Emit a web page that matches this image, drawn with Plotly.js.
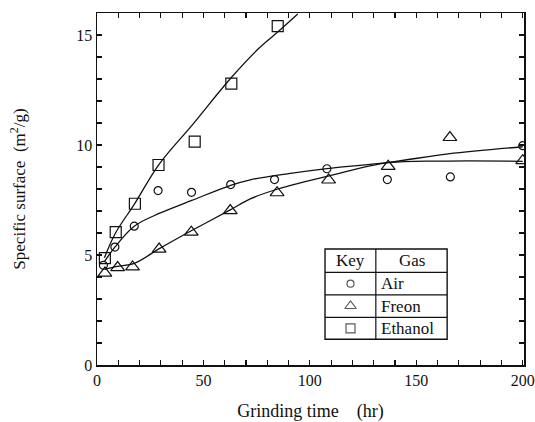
<!DOCTYPE html>
<html><head><meta charset="utf-8">
<script src="https://cdn.plot.ly/plotly-3.0.1.min.js"></script>
<style>body{margin:0;background:#fff}</style>
</head><body><div id="chart" style="width:535px;height:422px"></div>
<script>
// Measured points
const airX = [3, 8.4, 17.5, 28.7, 44.4, 62.8, 83.4, 108, 136.4, 166, 200];
const airY = [4.53, 5.36, 6.31, 7.93, 7.85, 8.2, 8.43, 8.92, 8.43, 8.55, 9.97];
const freonX = [3.7, 9.7, 16.7, 29.2, 44.3, 62.6, 84.6, 108.8, 136.8, 165.8, 200];
const freonY = [4.18, 4.43, 4.46, 5.27, 6.04, 7.02, 7.83, 8.41, 9.03, 10.34, 9.29];
const ethanolX = [3.7, 8.8, 17.8, 28.9, 45.9, 63.1, 84.9];
const ethanolY = [4.86, 6.04, 7.33, 9.09, 10.15, 12.79, 15.4];
// Fitted curves
const airCurveX = [3.5, 8.4, 17.5, 29.5, 44.5, 62.8, 72, 90, 108, 137, 165, 200];
const airCurveY = [4.7, 5.36, 6.31, 6.9, 7.48, 8.17, 8.42, 8.7, 8.93, 9.21, 9.6, 9.92];
const freonCurveX = [3.7, 9.5, 17.5, 29.5, 44.3, 62.6, 72, 85, 109, 137, 165, 200];
const freonCurveY = [4.35, 4.48, 4.62, 5.3, 6.1, 7.05, 7.55, 8.0, 8.6, 9.2, 9.27, 9.26];
const ethanolCurveX = [3.5, 8.7, 17.8, 28.9, 45.1, 62.5, 76.3, 85.7, 94.3];
const ethanolCurveY = [4.88, 6.0, 7.35, 9.09, 10.95, 13.0, 14.42, 15.2, 15.95];
// Key table
const keyNames = ['Air', 'Freon', 'Ethanol'];
const keySymbols = ['circle-open', 'triangle-up-open', 'square-open'];

const font = '"Liberation Serif", "Times New Roman", Times, serif';
const black = '#111';

const traces = [
  {x: airCurveX, y: airCurveY, mode: 'lines', line: {shape: 'spline', color: black, width: 1.3}, hoverinfo: 'skip'},
  {x: freonCurveX, y: freonCurveY, mode: 'lines', line: {shape: 'spline', color: black, width: 1.3}, hoverinfo: 'skip'},
  {x: ethanolCurveX, y: ethanolCurveY, mode: 'lines', line: {shape: 'spline', color: black, width: 1.3}, hoverinfo: 'skip'},
  {x: airX, y: airY, mode: 'markers', name: 'Air', marker: {symbol: 'circle-open', size: 8, color: black, line: {width: 1.2, color: black}}},
  {x: freonX, y: freonY, mode: 'markers', name: 'Freon', marker: {symbol: 'triangle-up-open', size: 12, color: black, line: {width: 1.2, color: black}}},
  {x: ethanolX, y: ethanolY, mode: 'markers', name: 'Ethanol', marker: {symbol: 'square-open', size: 11, color: black, line: {width: 1.2, color: black}}},
  // key symbols on overlay axes
  {x: [0.5937, 0.5937, 0.5937], y: [0.231, 0.1676, 0.104], xaxis: 'x2', yaxis: 'y2', mode: 'markers',
   marker: {symbol: keySymbols, size: [7, 10, 9], color: black, line: {width: 1.2, color: black}}, hoverinfo: 'skip'},
  // invisible trace to activate the mirrored tick axes
  {x: [0], y: [0], xaxis: 'x3', yaxis: 'y3', mode: 'markers', marker: {opacity: 0}, hoverinfo: 'skip'}
];

const rowY = [0.231, 0.1676, 0.104];
const annotations = [
  {xref: 'paper', yref: 'paper', x: 0.5937, y: 0.296, xanchor: 'center', yanchor: 'middle', text: 'Key', showarrow: false, font: {family: font, size: 17, color: black}},
  {xref: 'paper', yref: 'paper', x: 0.737, y: 0.296, xanchor: 'center', yanchor: 'middle', text: 'Gas', showarrow: false, font: {family: font, size: 17, color: black}}
];
keyNames.forEach((n, i) => annotations.push({xref: 'paper', yref: 'paper', x: 0.66, y: rowY[i], xanchor: 'left', yanchor: 'middle', text: n, showarrow: false, font: {family: font, size: 17, color: black}}));

const L = 0.534, R = 0.820, D = 0.653, T = 0.3295, B = 0.073;
const rows = [0.263, 0.199, 0.1355];
const shapes = [
  {type: 'rect', xref: 'paper', yref: 'paper', x0: L, x1: R, y0: B, y1: T, line: {color: black, width: 1.4}, fillcolor: 'rgba(0,0,0,0)', layer: 'above'},
  {type: 'line', xref: 'paper', yref: 'paper', x0: D, x1: D, y0: B, y1: T, line: {color: black, width: 1.2}}
];
rows.forEach(r => shapes.push({type: 'line', xref: 'paper', yref: 'paper', x0: L, x1: R, y0: r, y1: r, line: {color: black, width: 1.2}}));

const tickStyle = {ticks: 'inside', ticklen: 5, tickwidth: 1.2, tickcolor: black};
const axisCommon = Object.assign({
  showgrid: false, zeroline: false, showline: true, linecolor: black, linewidth: 1.5,
  tickfont: {family: font, size: 16, color: black}
}, tickStyle);

const layout = {
  width: 535, height: 422,
  margin: {l: 97, r: 11, t: 13, b: 57},
  paper_bgcolor: 'white', plot_bgcolor: 'white',
  showlegend: false,
  xaxis: Object.assign({}, axisCommon, {
    range: [0, 200.6], tick0: 0, dtick: 50,
    minor: Object.assign({dtick: 10}, tickStyle),
    title: {text: 'Grinding time    (hr)', font: {family: font, size: 18, color: black}, standoff: 16}
  }),
  yaxis: Object.assign({}, axisCommon, {
    range: [0, 16], tick0: 0, dtick: 5,
    minor: Object.assign({dtick: 1}, tickStyle),
    title: {text: 'Specific surface  (m<sup>2</sup>/g)', font: {family: font, size: 17, color: black}, standoff: 46}
  }),
  xaxis2: {overlaying: 'x', range: [0, 1], visible: false, fixedrange: true},
  yaxis2: {overlaying: 'y', range: [0, 1], visible: false, fixedrange: true},
  xaxis3: Object.assign({}, tickStyle, {overlaying: 'x', side: 'top', range: [0, 200.6], dtick: 10, tick0: 0,
    showticklabels: false, showline: true, linecolor: black, linewidth: 1.5, showgrid: false, zeroline: false}),
  yaxis3: Object.assign({}, tickStyle, {overlaying: 'y', side: 'right', range: [0, 16], dtick: 1, tick0: 0,
    showticklabels: false, showline: true, linecolor: black, linewidth: 1.5, showgrid: false, zeroline: false}),
  shapes: shapes,
  annotations: annotations
};

Plotly.newPlot('chart', traces, layout, {displayModeBar: false, staticPlot: true});
</script>
</body></html>
